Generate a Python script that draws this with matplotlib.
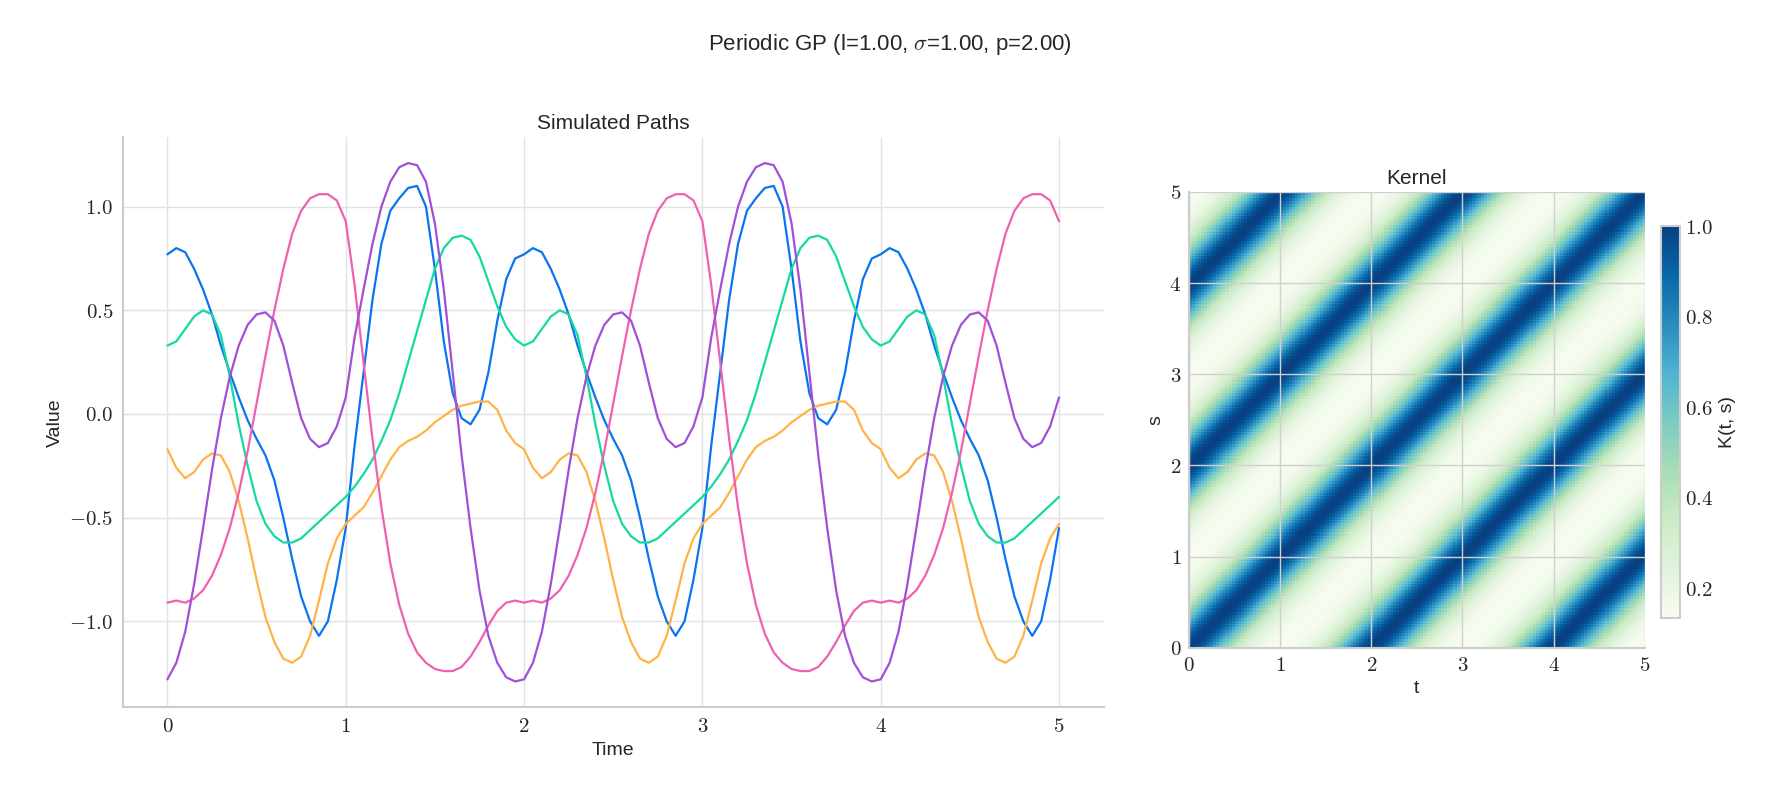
import matplotlib
matplotlib.use("Agg")
import matplotlib.pyplot as plt
import numpy as np
import seaborn as sns

sns.set_style("whitegrid")
plt.rcParams['font.family'] = ['Liberation Sans', 'DejaVu Sans']
plt.rcParams['mathtext.fontset'] = 'cm'

# time grid, step 0.05 from 0 to 5
t = [round(0.05 * i, 2) for i in range(101)]

# values read over one period [0, 2) -- the paths in the picture repeat every 2
blue_p = [0.77, 0.80, 0.78, 0.70, 0.60, 0.48, 0.33, 0.20, 0.08, -0.03,
          -0.12, -0.20, -0.32, -0.50, -0.70, -0.88, -1.00, -1.07, -1.00, -0.80,
          -0.55, -0.15, 0.20, 0.55, 0.82, 0.98, 1.04, 1.09, 1.10, 1.00,
          0.70, 0.35, 0.10, -0.02, -0.05, 0.02, 0.20, 0.45, 0.65, 0.75]
green_p = [0.33, 0.35, 0.41, 0.47, 0.50, 0.48, 0.38, 0.18, -0.05, -0.25,
           -0.42, -0.53, -0.59, -0.62, -0.62, -0.60, -0.56, -0.52, -0.48, -0.44,
           -0.40, -0.35, -0.29, -0.22, -0.13, -0.03, 0.10, 0.25, 0.40, 0.55,
           0.70, 0.80, 0.85, 0.86, 0.84, 0.76, 0.64, 0.52, 0.42, 0.36]
orange_p = [-0.17, -0.26, -0.31, -0.28, -0.22, -0.19, -0.20, -0.28, -0.42, -0.60,
            -0.80, -0.98, -1.10, -1.18, -1.20, -1.17, -1.07, -0.90, -0.72, -0.60,
            -0.53, -0.49, -0.45, -0.38, -0.30, -0.22, -0.16, -0.13, -0.11, -0.08,
            -0.04, -0.01, 0.02, 0.04, 0.05, 0.06, 0.06, 0.02, -0.08, -0.14]
pink_p = [-0.91, -0.90, -0.91, -0.89, -0.85, -0.78, -0.68, -0.55, -0.38, -0.18,
          0.05, 0.28, 0.50, 0.70, 0.87, 0.98, 1.04, 1.06, 1.06, 1.03,
          0.93, 0.62, 0.25, -0.12, -0.45, -0.72, -0.92, -1.06, -1.15, -1.20,
          -1.23, -1.24, -1.24, -1.22, -1.17, -1.10, -1.02, -0.95, -0.91, -0.90]
purple_p = [-1.28, -1.20, -1.05, -0.82, -0.55, -0.27, -0.02, 0.18, 0.33, 0.43,
            0.48, 0.49, 0.45, 0.33, 0.15, -0.02, -0.12, -0.16, -0.14, -0.06,
            0.08, 0.37, 0.60, 0.82, 1.00, 1.12, 1.19, 1.21, 1.20, 1.12,
            0.92, 0.60, 0.20, -0.20, -0.55, -0.85, -1.07, -1.20, -1.27, -1.29]

blue = blue_p + blue_p + blue_p[:21]
green = green_p + green_p + green_p[:21]
orange = orange_p + orange_p + orange_p[:21]
pink = pink_p + pink_p + pink_p[:21]
purple = purple_p + purple_p + purple_p[:21]

paths = [(blue, "#0a74f0"), (green, "#14d9a0"), (orange, "#ffb347"),
         (pink, "#f060b0"), (purple, "#a050d8")]

# periodic kernel parameters
ell, sigma, period = 1.0, 1.0, 2.0
grid = np.linspace(0, 5, 150)
T, S = np.meshgrid(grid, grid)
K = sigma**2 * np.exp(-2 * np.sin(np.pi * np.abs(T - S) / period)**2 / ell**2)

fig = plt.figure(figsize=(17.8, 7.93), dpi=100)
ax1 = fig.add_axes([0.069, 0.108, 0.551, 0.719])
ax2 = fig.add_axes([0.668, 0.183, 0.256, 0.575])
cax = fig.add_axes([0.933, 0.221, 0.011, 0.494])

for y, c in paths:
    ax1.plot(t, y, color=c, linewidth=1.6)
ax1.set_title("Simulated Paths", fontsize=15)
ax1.set_xlabel("Time", fontsize=14)
ax1.set_ylabel("Value", fontsize=14)
ax1.set_xticks([0, 1, 2, 3, 4, 5])
ax1.set_yticks([-1.0, -0.5, 0.0, 0.5, 1.0])
ax1.set_yticklabels([r"$-1.0$", r"$-0.5$", r"$0.0$", r"$0.5$", r"$1.0$"])
ax1.set_xticklabels([rf"${i}$" for i in range(6)])
ax1.tick_params(labelsize=15)
ax1.grid(True, color="#e2e2e2", linewidth=1)
for side in ["top", "right"]:
    ax1.spines[side].set_visible(False)
for side in ["left", "bottom"]:
    ax1.spines[side].set_color("#cccccc")
    ax1.spines[side].set_linewidth(1.5)

im = ax2.imshow(K, cmap="GnBu", origin="lower", extent=[0, 5, 0, 5],
                aspect="auto", interpolation="nearest")
ax2.set_title("Kernel", fontsize=15)
ax2.set_xlabel("t", fontsize=14)
ax2.set_ylabel("s", fontsize=14)
ax2.set_xticks([0, 1, 2, 3, 4, 5])
ax2.set_yticks([0, 1, 2, 3, 4, 5])
ax2.set_xticklabels([rf"${i}$" for i in range(6)])
ax2.set_yticklabels([rf"${i}$" for i in range(6)])
ax2.tick_params(labelsize=15, pad=2)
ax2.grid(True, color="#d0d0d0", linewidth=1)
for side in ["top", "right"]:
    ax2.spines[side].set_visible(False)
for side in ["left", "bottom"]:
    ax2.spines[side].set_color("#cccccc")
    ax2.spines[side].set_linewidth(1.5)

cb = fig.colorbar(im, cax=cax)
cb.set_label("K(t, s)", fontsize=14)
cb.set_ticks([0.2, 0.4, 0.6, 0.8, 1.0])
cb.set_ticklabels([r"$0.2$", r"$0.4$", r"$0.6$", r"$0.8$", r"$1.0$"])
cb.ax.tick_params(labelsize=15, length=0)
cb.outline.set_edgecolor("#cccccc")
cb.outline.set_linewidth(1.5)

fig.suptitle(r"Periodic GP (l=1.00, $\sigma$=1.00, p=2.00)", fontsize=16, y=0.96)
fig.savefig("out.png", dpi=100)
